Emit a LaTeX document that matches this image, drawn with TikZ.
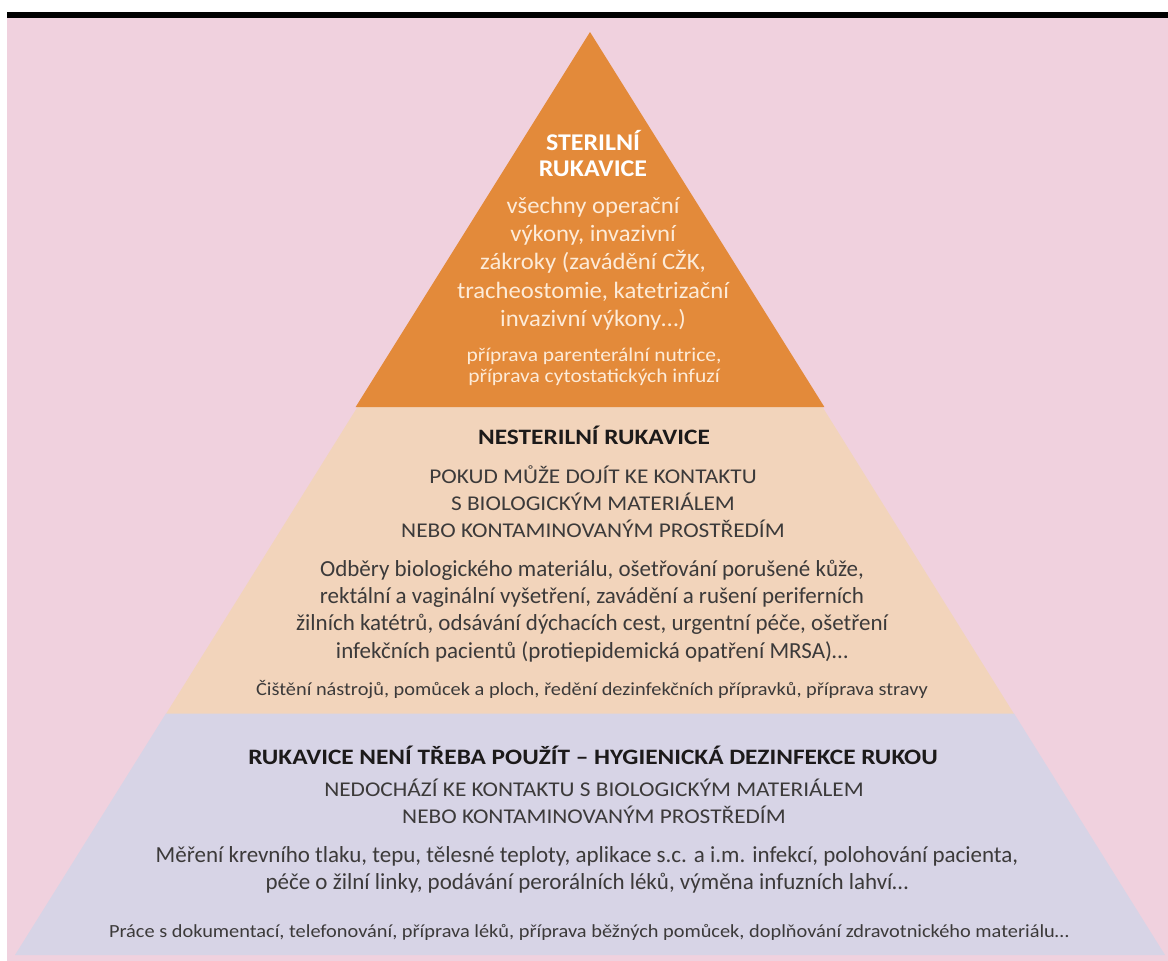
\documentclass[tikz,border=0pt]{standalone}
\usepackage{fontspec}
\setmainfont{Carlito}
\newfontfamily\toptitlefont[FakeStretch=1.08]{Carlito}
\newfontfamily\topbodyfont[FakeStretch=1.05]{Carlito}
\newfontfamily\widefont[FakeStretch=1.10]{Carlito}
\newfontfamily\headfont[FakeStretch=1.15]{Carlito}
\newfontfamily\capsfont[FakeStretch=1.11]{Carlito}
\definecolor{bgpink}{HTML}{F0D1DE}
\definecolor{toporange}{HTML}{E38A3A}
\definecolor{midtan}{HTML}{F2D4BB}
\definecolor{baselav}{HTML}{D7D4E6}
\definecolor{cream}{HTML}{FDEBD8}
\definecolor{inkdark}{HTML}{1C1A1A}
\definecolor{inkgray}{HTML}{3C3A3A}
\begin{document}
\begin{tikzpicture}[x=1pt,y=-1pt,
  txt/.style={inner sep=0pt,align=center,anchor=center},
  toptitle/.style={txt,text=white,font=\toptitlefont\bfseries\fontsize{24}{26.5}\selectfont},
  topbody/.style={txt,text=cream,font=\topbodyfont\fontsize{23.5}{28.25}\selectfont},
  topsmall/.style={txt,text=cream,font=\widefont\fontsize{19.5}{21}\selectfont},
  bandtitle/.style={txt,text=inkdark,font=\headfont\bfseries\fontsize{22}{26}\selectfont},
  bandcaps/.style={txt,text=inkgray,font=\capsfont\fontsize{21}{27}\selectfont},
  bandbody/.style={txt,text=inkgray,font=\fontsize{23}{27.3}\selectfont},
  bandsmall/.style={txt,text=inkgray,font=\widefont\fontsize{18.5}{20}\selectfont}]
\useasboundingbox (0,0) rectangle (1168,961);
% page ground, top rule and tinted field
\fill[white] (0,0) rectangle (1168,961);
\fill[bgpink] (7,17) rectangle (1168,961);
\fill[black] (7,12) rectangle (1168,17.5);
% pyramid tiers
\coordinate (apex) at (590,32);
\fill[baselav] (15,955) -- (1165,955) -- (1165-0.625*242,713) -- (15+0.625*242,713) -- cycle;
\fill[midtan] (15+0.625*242,713.5) -- (1165-0.625*242,713.5) -- (1165-0.625*548,407) -- (15+0.625*548,407) -- cycle;
\fill[toporange] (apex) -- (590+0.625*375,407) -- (590-0.625*375,407) -- cycle;
% top tier texts
\node[toptitle] (stitle) at (593,153.5) {STERILNÍ\\RUKAVICE};
\node[topbody] (sbody) at (593,263.5) {všechny operační\\výkony, invazivní\\zákroky (zavádění CŽK,\\tracheostomie, katetrizační\\invazivní výkony…)};
\node[topsmall] (ssmall) at (594,366.5) {příprava parenterální nutrice,\\příprava cytostatických infuzí};
% middle tier texts
\node[bandtitle] (ntitle) at (594,435) {NESTERILNÍ RUKAVICE};
\node[bandcaps] (ncaps) at (593,501.5) {POKUD MŮŽE DOJÍT KE KONTAKTU\\S BIOLOGICKÝM MATERIÁLEM\\NEBO KONTAMINOVANÝM PROSTŘEDÍM};
\node[bandbody] (nbody) at (592,611) {Odběry biologického materiálu, ošetřování porušené kůže,\\rektální a vaginální vyšetření, zavádění a rušení periferních\\žilních katétrů, odsávání dýchacích cest, urgentní péče, ošetření\\infekčních pacientů (protiepidemická opatření MRSA)…};
\node[bandsmall] (nsmall) at (592,690) {Čištění nástrojů, pomůcek a ploch, ředění dezinfekčních přípravků, příprava stravy};
% base tier texts
\node[bandtitle] (htitle) at (593,755) {RUKAVICE NENÍ TŘEBA POUŽÍT – HYGIENICKÁ DEZINFEKCE RUKOU};
\node[bandcaps] (hcaps) at (594,801.5) {NEDOCHÁZÍ KE KONTAKTU S BIOLOGICKÝM MATERIÁLEM\\NEBO KONTAMINOVANÝM PROSTŘEDÍM};
\node[bandbody] (hbody) at (587,870) {Měření krevního tlaku, tepu, tělesné teploty, aplikace s.c. a i.m. infekcí, polohování pacienta,\\péče o žilní linky, podávání perorálních léků, výměna infuzních lahví…};
\node[bandsmall] (hsmall) at (589,932) {Práce s dokumentací, telefonování, příprava léků, příprava běžných pomůcek, doplňování zdravotnického materiálu…};
\end{tikzpicture}
\end{document}
